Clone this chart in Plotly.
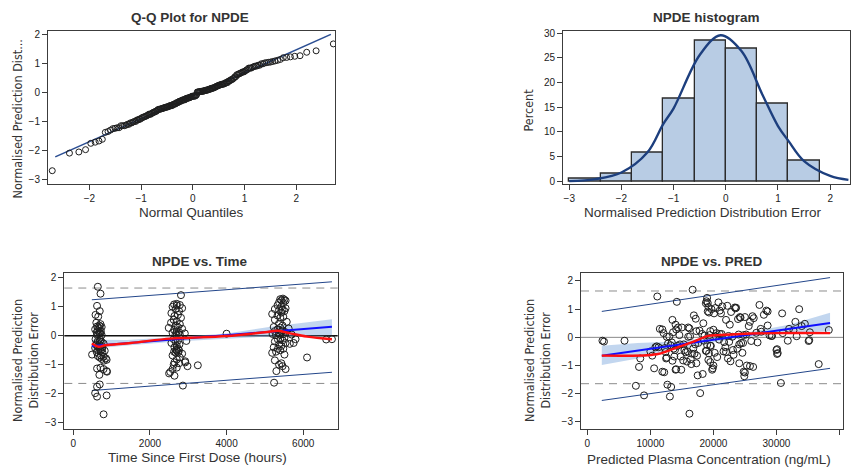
import plotly.graph_objects as go
from statistics import NormalDist

W, H = 851, 471

# ---------------------------------------------------------------------------
# NPDE per observation, with time after first dose (h) and population
# prediction (ng/mL); grouped by sampling occasion
# ---------------------------------------------------------------------------
npde_occ1 = [1.69, 1.45, 1.03, 0.85, 0.72, 0.66, 0.45, 0.40, 0.35, 0.32, 0.30, 0.28,
             0.26, 0.22, 0.18, 0.15, 0.12, 0.10, 0.08, 0.05, 0.03, 0.02, -0.12, -0.15,
             -0.18, -0.20, -0.22, -0.25, -0.27, -0.30, -0.32, -0.35, -0.38, -0.40, -0.42,
             -0.45, -0.48, -0.50, -0.52, -0.53, -0.56, -0.58, -0.65, -0.68, -0.70, -0.72,
             -0.75, -0.78, -0.80, -0.83, -0.86, -1.10, -1.13, -1.15, -1.22, -1.35, -1.68,
             -1.76, -1.98, -2.06, -2.10, -2.71]
time_occ1 = [640, 710, 620, 690, 580, 650, 600, 710, 680, 620, 740, 650, 690, 570, 640,
             720, 610, 680, 710, 650, 620, 740, 580, 710, 640, 690, 740, 620, 790, 680,
             600, 710, 640, 760, 570, 690, 740, 650, 820, 710, 610, 760, 490, 720, 640,
             790, 690, 850, 740, 870, 800, 710, 620, 790, 870, 680, 690, 620, 570, 870,
             620, 790]
pred_occ1 = [16700, 11100, 23500, 21200, 25000, 17200, 14000, 34000, 15000, 16200, 11500,
             11900, 38300, 19500, 13600, 20500, 18200, 24000, 14600, 22400, 13000, 16000,
             2400, 2650, 13400, 17600, 12800, 15300, 19000, 14300, 11000, 10800, 12300,
             16800, 30100, 13900, 18800, 10000, 22000, 15600, 30200, 17000, 10300, 14800,
             20600, 12600, 8400, 16400, 19200, 13500, 15800, 10600, 14100, 19800, 11900,
             17500, 12700, 13300, 17900, 9000, 13100, 16200]

npde_occ2 = [1.40, 1.10, 1.08, 1.06, 1.04, 1.00, 0.95, 0.92, 0.85, 0.78, 0.72, 0.68, 0.62,
             0.55, 0.50, 0.45, 0.40, 0.35, 0.30, 0.27, 0.24, 0.20, 0.15, 0.12, 0.10, 0.08,
             0.05, 0.04, 0.02, -0.12, -0.17, -0.20, -0.25, -0.30, -0.35, -0.40, -0.45,
             -0.48, -0.50, -0.52, -0.55, -0.57, -0.58, -0.62, -0.68, -0.75, -0.82, -0.88,
             -0.92, -0.95, -1.00, -1.05, -1.10, -1.15, -1.25, -1.30, -1.38, -1.72]
time_occ2 = [2810, 2700, 2630, 2780, 2700, 2590, 2840, 2670, 2760, 2560, 2730, 2640, 2810,
             2620, 2700, 2550, 2780, 2670, 2730, 2490, 2840, 2630, 2700, 2760, 2590, 2910,
             2670, 2780, 2700, 2620, 2730, 2670, 2560, 2770, 2700, 2640, 2730, 2690, 2760,
             2700, 2630, 2740, 2670, 2840, 2590, 2780, 2700, 2920, 2640, 2760, 2620, 2980,
             2700, 2590, 2530, 2500, 2640, 2860]
pred_occ2 = [19000, 21400, 19200, 23400, 20300, 33600, 28400, 19100, 30900, 16900, 24200,
             26400, 13500, 33000, 18400, 22600, 25600, 14400, 32000, 20000, 17800, 27600,
             12100, 21000, 25200, 19400, 29200, 16300, 23000, 5900, 21700, 24400, 14700,
             19600, 11300, 23800, 15400, 18900, 21600, 12400, 24600, 19300, 16600, 23200,
             13800, 12500, 15200, 19500, 24100, 36700, 25300, 8200, 19900, 14000, 25000,
             18300, 24900, 7700]

npde_occ3 = [1.28, 1.26, 1.24, 1.22, 1.21, 1.15, 1.12, 1.05, 1.00, 0.95, 0.92, 0.90, 0.88,
             0.85, 0.80, 0.75, 0.70, 0.65, 0.62, 0.55, 0.48, 0.42, 0.35, 0.30, 0.28, 0.25,
             0.22, 0.18, 0.16, 0.15, 0.12, 0.08, 0.06, 0.05, 0.03, 0.02, -0.08, -0.10,
             -0.13, -0.16, -0.20, -0.25, -0.30, -0.35, -0.40, -0.45, -0.45, -0.50, -0.55,
             -0.59, -0.65, -0.85, -0.95, -1.00, -1.05, -1.15, -1.22, -1.62]
time_occ3 = [5470, 5400, 5510, 5430, 5540, 5370, 5480, 5330, 5430, 5540, 5260, 5460, 5370,
             5510, 5430, 5190, 5330, 5480, 5400, 5260, 5570, 5370, 5460, 5230, 5400, 5620,
             5330, 5470, 5260, 5430, 5540, 5370, 5200, 5480, 5400, 5290, 5510, 5400, 5340,
             5460, 5260, 5540, 5370, 5430, 5230, 5340, 5480, 5400, 5290, 5190, 5510, 5260,
             5430, 5370, 5460, 5540, 5300, 5240]
pred_occ3 = [18900, 14200, 20800, 19100, 18800, 27300, 22200, 23600, 19700, 21000, 28600,
             22800, 19300, 20100, 28000, 26200, 24300, 23900, 22000, 25800, 34500, 28600,
             16000, 27500, 14100, 32700, 17300, 35300, 26800, 31000, 21300, 24800, 18600,
             29300, 20400, 12600, 20900, 35200, 26000, 22500, 24700, 17100, 19500, 21900,
             13700, 23100, 30000, 15900, 20200, 30100, 17400, 22700, 16500, 20000, 26300,
             14900, 24800, 30700]

npde_other = [-1.24, -0.18, -0.92, -1.02, 0.07, -0.28, 0.04, -0.25, -0.12, -0.75, -0.13, -0.12]
time_other = [880, 2950, 2920, 3250, 4000, 5650, 5700, 5750, 5800, 6100, 6600, 6750]
pred_other = [12200, 27000, 17300, 25800, 28900, 13200, 33200, 24100, 18500, 22300, 35100, 31800]

npde = npde_occ1 + npde_occ2 + npde_occ3 + npde_other
time_h = time_occ1 + time_occ2 + time_occ3 + time_other
pred = pred_occ1 + pred_occ2 + pred_occ3 + pred_other

# Q-Q reference line (fitted mean / SD)
qq_ref_x = [-2.66, 2.67]
qq_ref_y = [-2.23, 2.02]

# histogram binning and fitted normal density (percent scale)
hist_start, hist_end, hist_width = -3.0, 1.8, 0.6
dens_x = [-3.0, -2.5, -2.0, -1.5, -1.2, -1.0, -0.5, -0.1, 0.3, 0.7, 1.0, 1.2, 1.5, 2.0, 2.35]
dens_y = [0.05, 0.45, 1.8, 5.9, 11.6, 14.8, 25.6, 29.6, 26.4, 17.6, 11.2, 8.2, 4.1, 1.1, 0.3]

# 90% limits of the standard normal
NPDE_LIMIT = 1.645

# NPDE vs time: trend line, its confidence band, prediction bounds and smoother
trend_t_x = [484, 6750]
trend_t_y = [-0.35, 0.31]
trend_t_hi = [1.24, 1.86]
trend_t_lo = [-1.89, -1.26]
band_t_x = [484, 1400, 2700, 4000, 5150, 6750]
band_t_up = [-0.14, -0.15, -0.04, 0.08, 0.31, 0.57]
band_t_dn = [-0.45, -0.34, -0.20, -0.10, -0.03, 0.02]
smooth_t_x = [484, 660, 835, 1500, 2525, 3050, 4000, 5000, 5350, 5660, 6100, 6750]
smooth_t_y = [-0.27, -0.38, -0.33, -0.25, -0.10, -0.07, -0.01, 0.12, 0.17, 0.08, -0.03, -0.12]

# NPDE vs PRED
trend_p_x = [2300, 38500]
trend_p_y = [-0.65, 0.51]
trend_p_hi = [0.92, 2.12]
trend_p_lo = [-2.24, -1.10]
band_p_x = [2300, 8000, 14000, 20000, 26000, 32000, 38500]
band_p_up = [-0.30, -0.20, -0.15, 0.00, 0.20, 0.45, 0.87]
band_p_dn = [-0.98, -0.75, -0.42, -0.17, 0.02, 0.15, 0.22]
smooth_p_x = [2300, 11000, 13100, 16300, 19200, 21000, 24200, 30000, 38500]
smooth_p_y = [-0.65, -0.60, -0.45, -0.20, 0.05, 0.08, 0.12, 0.15, 0.15]

# ---------------------------------------------------------------------------
FONT = "Liberation Sans, Arial, sans-serif"
NARROW = "Liberation Sans Narrow, DejaVu Sans Condensed, Arial Narrow, sans-serif"
TXT = "#333333"
FRAME = "#3c3c3c"
NAVY = "#23468a"


def fx(px):
    return px / W


def fy(py):
    return 1 - py / H


fig = go.Figure()

# --- Q-Q plot ---------------------------------------------------------------
n = len(npde)
nd = NormalDist()
theo_q = [nd.inv_cdf((i + 1 - 0.375) / (n + 0.25)) for i in range(n)]
fig.add_trace(go.Scatter(x=qq_ref_x, y=qq_ref_y, mode="lines",
                         line=dict(color="#2c4f93", width=1.6), xaxis="x", yaxis="y"))
fig.add_trace(go.Scatter(x=theo_q, y=sorted(npde), mode="markers",
                         marker=dict(symbol="circle-open", size=6, color="#1e1e1e",
                                     line=dict(width=1)), xaxis="x", yaxis="y"))

# --- histogram ----------------------------------------------------------------
fig.add_trace(go.Histogram(x=npde, histnorm="percent",
                           xbins=dict(start=hist_start, end=hist_end, size=hist_width),
                           marker=dict(color="#b8cce4", line=dict(color="#2b2b2b", width=1.3)),
                           xaxis="x2", yaxis="y2"))
fig.add_trace(go.Scatter(x=dens_x, y=dens_y, mode="lines", line_shape="spline",
                         line=dict(color="#1d3f7e", width=2.4), xaxis="x2", yaxis="y2"))


def residual_panel(xv, xs, ys, hi, lo, bx, bup, bdn, sx, sy, xa, ya):
    fig.add_trace(go.Scatter(x=xs, y=hi, mode="lines", line=dict(color=NAVY, width=1),
                             xaxis=xa, yaxis=ya))
    fig.add_trace(go.Scatter(x=xs, y=lo, mode="lines", line=dict(color=NAVY, width=1),
                             xaxis=xa, yaxis=ya))
    fig.add_trace(go.Scatter(x=bx + bx[::-1], y=bup + bdn[::-1], mode="lines",
                             fill="toself", fillcolor="rgba(120,165,220,0.45)",
                             line=dict(width=0), xaxis=xa, yaxis=ya))
    fig.add_trace(go.Scatter(x=xv, y=npde, mode="markers",
                             marker=dict(symbol="circle-open", size=7, color="#1e1e1e",
                                         line=dict(width=1)), xaxis=xa, yaxis=ya))
    fig.add_trace(go.Scatter(x=xs, y=ys, mode="lines", line=dict(color="#1010ff", width=2),
                             xaxis=xa, yaxis=ya))
    fig.add_trace(go.Scatter(x=sx, y=sy, mode="lines", line_shape="spline",
                             line=dict(color="#ff1010", width=2.4), xaxis=xa, yaxis=ya))


residual_panel(time_h, trend_t_x, trend_t_y, trend_t_hi, trend_t_lo,
               band_t_x, band_t_up, band_t_dn, smooth_t_x, smooth_t_y, "x3", "y3")
residual_panel(pred, trend_p_x, trend_p_y, trend_p_hi, trend_p_lo,
               band_p_x, band_p_up, band_p_dn, smooth_p_x, smooth_p_y, "x4", "y4")

# reference lines: +/- limits dashed, zero solid
shapes = []
for ax, zc, zw in (("3", "#111111", 1.3), ("4", "#8a8a8a", 1)):
    for lv in (NPDE_LIMIT, -NPDE_LIMIT):
        shapes.append(dict(type="line", xref=f"x{ax} domain", yref=f"y{ax}", x0=0, x1=1,
                           y0=lv, y1=lv, line=dict(color="#8c8c8c", width=1, dash="8px,6px"),
                           layer="below"))
    shapes.append(dict(type="line", xref=f"x{ax} domain", yref=f"y{ax}", x0=0, x1=1,
                       y0=0, y1=0, line=dict(color=zc, width=zw), layer="below"))


def axis(domain, rng, tickvals, anchor):
    return dict(domain=domain, range=rng, tickvals=tickvals, anchor=anchor,
                showline=True, mirror=True, linecolor=FRAME, linewidth=1,
                ticks="outside", ticklen=5, tickcolor=FRAME, tickwidth=1,
                showgrid=False, zeroline=False,
                tickfont=dict(family=FONT, size=10, color="#222222"))


layout = dict(
    width=W, height=H, margin=dict(l=0, r=0, t=0, b=0),
    paper_bgcolor="white", plot_bgcolor="white", showlegend=False,
    font=dict(family=FONT, color=TXT),
    xaxis=axis([fx(48), fx(335)], [-2.80, 2.75], [-2, -1, 0, 1, 2], "y"),
    yaxis=axis([fy(183), fy(28)], [-3.16, 2.15], [-3, -2, -1, 0, 1, 2], "x"),
    xaxis2=axis([fx(563), fx(850)], [-3.12, 2.38], [-3, -2, -1, 0, 1, 2], "y2"),
    yaxis2=axis([fy(183), fy(28)], [-0.47, 30.53], [0, 5, 10, 15, 20, 25, 30], "x2"),
    xaxis3=axis([fx(64.3), fx(337.7)], [-235, 6900], [0, 2000, 4000, 6000], "y3"),
    yaxis3=axis([fy(431), fy(273.3)], [-3.2, 2.17], [-3, -2, -1, 0, 1, 2], "x3"),
    xaxis4=axis([fx(581), fx(843.3)], [-1000, 40600], [0, 10000, 20000, 30000, 40000], "y4"),
    yaxis4=axis([fy(431.7), fy(273.3)], [-3.26, 2.29], [-3, -2, -1, 0, 1, 2], "x4"),
    shapes=shapes,
    bargap=0,
)
layout["xaxis4"]["tickformat"] = "d"
layout["xaxis3"]["tickformat"] = "d"
# the last concentration tick sits at the page edge: keep its mark without a label
layout["xaxis4"]["minor"] = dict(tickvals=[40000], ticks="outside", ticklen=5,
                                 tickcolor=FRAME, tickwidth=1, showgrid=False)


def note(text, px, py, size=13.5, angle=0, family=FONT, bold=False):
    return dict(text=f"<b>{text}</b>" if bold else text, x=fx(px), y=fy(py),
                xref="paper", yref="paper", xanchor="center", yanchor="middle",
                showarrow=False, textangle=angle,
                font=dict(family=family, size=size, color=TXT))


layout["annotations"] = [
    note("Q-Q Plot for NPDE", 189.7, 15, bold=True),
    note("NPDE histogram", 706, 15, bold=True),
    note("NPDE vs. Time", 200, 262.3, bold=True),
    note("NPDE vs. PRED", 711.7, 262.3, bold=True),
    note("Normal Quantiles", 191.7, 212.7),
    note("Normalised Prediction Distribution Error", 703, 212.7),
    note("Time Since First Dose (hours)", 197, 460),
    note("Predicted Plasma Concentration (ng/mL)", 709, 462.3),
    note("Normalised Prediction Dist...", 17, 118, size=12.5, angle=-90, family=NARROW),
    note("Percent", 529, 109, size=12.5, angle=-90, family=NARROW),
    note("Normalised Prediction<br>Distribution Error", 25.5, 362, size=12.5, angle=-90,
         family=NARROW),
    note("Normalised Prediction<br>Distribution Error", 537.5, 362, size=12.5, angle=-90,
         family=NARROW),
]

fig.update_layout(**layout)
fig.write_html("out.html")
